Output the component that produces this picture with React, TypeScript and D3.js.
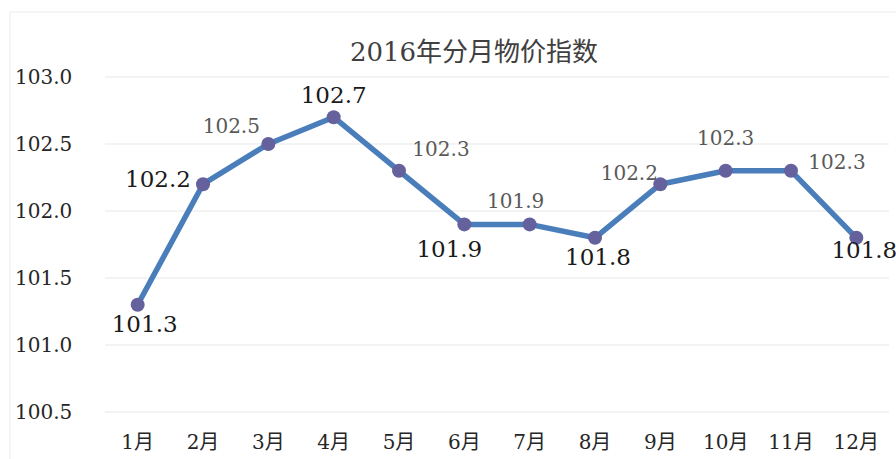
import * as d3 from "d3";

const months = ["1月", "2月", "3月", "4月", "5月", "6月", "7月", "8月", "9月", "10月", "11月", "12月"];
const priceIndex = [101.3, 102.2, 102.5, 102.7, 102.3, 101.9, 101.9, 101.8, 102.2, 102.3, 102.3, 101.8];
const yTicks = [100.5, 101.0, 101.5, 102.0, 102.5, 103.0];
const title = "2016年分月物价指数";

// label styling: which labels are drawn large, and their nudge from the point
const labelLarge = [true, true, false, true, false, true, false, true, false, false, false, true];
const labelNudge: [number, number][] = [
  [7, 27], [-45, 3], [-37, -11], [0, -14], [42, -15], [-15, 33],
  [-14, -16], [3, 27], [-31, -4], [0, -26], [46, -2], [8, 20],
];

const width = 896;
const height = 459;
const marginLeft = 105;
const marginRight = 7;
const font = "'DejaVu Serif', 'Noto Sans CJK SC', serif";

export default function App() {
  const x = d3
    .scaleBand<string>()
    .domain(months)
    .range([marginLeft, width - marginRight]);

  const y = d3.scaleLinear().domain([100.5, 103]).range([412, 77]);

  const line = d3
    .line<number>()
    .x((_, i) => x(months[i])! + x.bandwidth() / 2)
    .y((d) => y(d));

  const fmt = d3.format(".1f");

  return (
    <svg
      width={width}
      height={height}
      style={{ position: "absolute", left: 0, top: 0, background: "#fff" }}
      fontFamily={font}
    >
      <rect x={10} y={12} width={width} height={height} fill="#fff" stroke="#ebebeb" />
      <text x={474} y={61} textAnchor="middle" fontSize={26} fill="#404040">
        {title}
      </text>

      {/* grid + y ticks */}
      {yTicks.map((t) => (
        <g key={t}>
          <line
            x1={marginLeft}
            x2={width - marginRight}
            y1={y(t)}
            y2={y(t)}
            stroke="#efefef"
            strokeWidth={1.5}
          />
          <text x={15} y={y(t)} dy="0.36em" fontSize={20} fill="#262626">
            {fmt(t)}
          </text>
        </g>
      ))}

      {/* x labels */}
      {months.map((m) => (
        <text
          key={m}
          x={x(m)! + x.bandwidth() / 2}
          y={449}
          textAnchor="middle"
          fontSize={20}
          fill="#262626"
        >
          {m}
        </text>
      ))}

      <path d={line(priceIndex) ?? ""} fill="none" stroke="#4a7ebb" strokeWidth={5.5} strokeLinejoin="round" />

      {priceIndex.map((v, i) => (
        <circle
          key={i}
          cx={x(months[i])! + x.bandwidth() / 2}
          cy={y(v)}
          r={7}
          fill="#65619c"
        />
      ))}

      {priceIndex.map((v, i) => (
        <text
          key={"l" + i}
          x={x(months[i])! + x.bandwidth() / 2 + labelNudge[i][0]}
          y={y(v) + labelNudge[i][1]}
          textAnchor="middle"
          fontSize={labelLarge[i] ? 23 : 20}
          fill={labelLarge[i] ? "#1a1a1a" : "#595959"}
        >
          {fmt(v)}
        </text>
      ))}
    </svg>
  );
}
